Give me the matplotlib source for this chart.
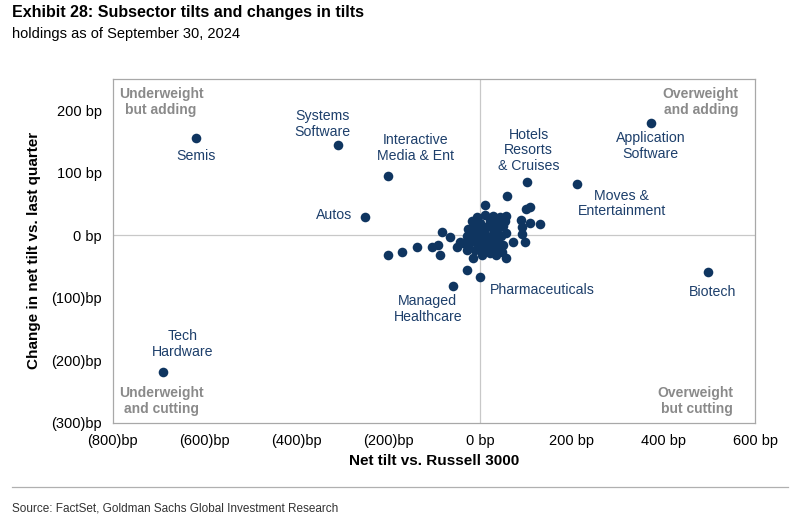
import numpy as np
import matplotlib
matplotlib.use("Agg")
import matplotlib.pyplot as plt
from matplotlib.ticker import FuncFormatter

# named subsectors: net tilt vs Russell 3000 (bp), change vs last quarter (bp)
names = ["Semis", "Systems\nSoftware", "Interactive\nMedia & Ent", "Autos",
         "Hotels\nResorts\n& Cruises", "Application\nSoftware", "Moves &\nEntertainment",
         "Biotech", "Pharmaceuticals", "Managed\nHealthcare", "Tech\nHardware"]
named_x = [-619, -310, -201, -251, 103, 372, 212, 498, 0, -59, -691]
named_y = [156, 145, 95, 29, 85, 179, 82, -58, -66, -81, -218]

# other subsectors (unlabelled)
other_x = [59, 11, 100, 109, 11, 57, 90, 109, 131, 33, -11, 92, -83, -66, -44, 92, 72, 98,
           -201, -170, -136, -105, -92, -87, -50, -15, 4, 39, 57, 48, -28,
           -25, -15, -4, 7, 18, 29, 40, 51, -29, -18, -7, 4, 15, 25, 36, 47, 58,
           -36, -25, -15, -4, 7, 18, 29, 40, 51, -29, -11, 0, 15, 29, 44, 36, 22,
           0, 22, 40, -18, 55, -7, 29, 44, -10, 10, 20, 33, -20, 0]
other_y = [63, 48, 42, 45, 32, 31, 24, 19, 18, 23, 19, 13, 5, -3, -10, 2, -10, -11,
           -32, -27, -18, -18, -16, -32, -19, -37, -31, -23, -37, -26, -56,
           10, 15, 12, 10, 15, 10, 12, 15, -1, 2, -1, 2, -4, -1, 2, -1, 4,
           -12, -15, -9, -15, -12, -15, -9, -12, -15, -23, -23, -20, -23, -20, -17, -31, -28,
           20, 23, 20, 23, 23, 29, 31, 29, 6, 5, -6, -5, 6, -7]

# label offsets in points (text placement only)
offsets = [(0, -13), (-11, 15), (20, 20), (-9, 1.5), (1, 23), (0, -16.5), (32, -14),
           (3, -15), (7, -10), (-18, -16.5), (14, 20)]
aligns = ["center", "center", "center", "right", "center", "center", "center",
          "center", "left", "center", "center"]

navy = "#0f3560"
label_col = "#1d3f6b"
quad_col = "#8a8a8a"
sans = ["Liberation Sans", "DejaVu Sans"]
plt.rcParams["font.family"] = sans

fig = plt.figure(figsize=(8, 5.19), dpi=100)
ax = fig.add_axes([0.141, 0.185, 0.803, 0.663])

ax.axhline(0, color="#c8c8c8", lw=0.9, zorder=0)
ax.axvline(0, color="#c8c8c8", lw=0.9, zorder=0)

ax.scatter(other_x, other_y, s=48, color=navy, zorder=3, linewidths=0)
ax.scatter(named_x, named_y, s=48, color=navy, zorder=3, linewidths=0)

for n, x, y, off, ha in zip(names, named_x, named_y, offsets, aligns):
    ax.annotate(n, (x, y), xytext=off, textcoords="offset points", ha=ha, va="center",
                fontsize=10.2, color=label_col, linespacing=1.15)

quad = [("Underweight\nbut adding", 0.075, 0.933, "center"),
        ("Overweight\nand adding", 0.974, 0.933, "right"),
        ("Underweight\nand cutting", 0.076, 0.064, "center"),
        ("Overweight\nbut cutting", 0.966, 0.064, "right")]
for t, qx, qy, ha in quad:
    ax.text(qx, qy, t, transform=ax.transAxes, ha=ha, va="center", fontsize=10,
            fontweight="bold", color=quad_col, linespacing=1.15)

ax.set_xlim(-800, 600)
ax.set_ylim(-300, 250)
ax.set_xticks(np.arange(-800, 601, 200))
ax.set_yticks(np.arange(-300, 201, 100))


def bp(v, pos):
    v = int(round(v))
    return "(%d)bp" % -v if v < 0 else "%d bp" % v


ax.xaxis.set_major_formatter(FuncFormatter(bp))
ax.yaxis.set_major_formatter(FuncFormatter(bp))
ax.tick_params(length=0, labelsize=10.5, colors="black", pad=8)
ax.tick_params(axis="x", pad=8)
for s in ax.spines.values():
    s.set_color("#a8a8a8")
    s.set_linewidth(0.9)

ax.set_xlabel("Net tilt vs. Russell 3000", fontsize=11, fontweight="bold", labelpad=4)
ax.set_ylabel("Change in net tilt vs. last quarter", fontsize=11, fontweight="bold", labelpad=7)

fig.text(0.015, 0.975, "Exhibit 28: Subsector tilts and changes in tilts", fontsize=11.5,
         fontweight="bold", va="center")
fig.text(0.015, 0.934, "holdings as of September 30, 2024", fontsize=10.5, va="center")
fig.add_artist(plt.Line2D([0.015, 0.985], [0.062, 0.062], color="#b0b0b0", lw=0.9))
fig.text(0.015, 0.021, "Source: FactSet, Goldman Sachs Global Investment Research",
         fontsize=8.5, va="center", color="#333333")

fig.savefig("out.png", dpi=100)
